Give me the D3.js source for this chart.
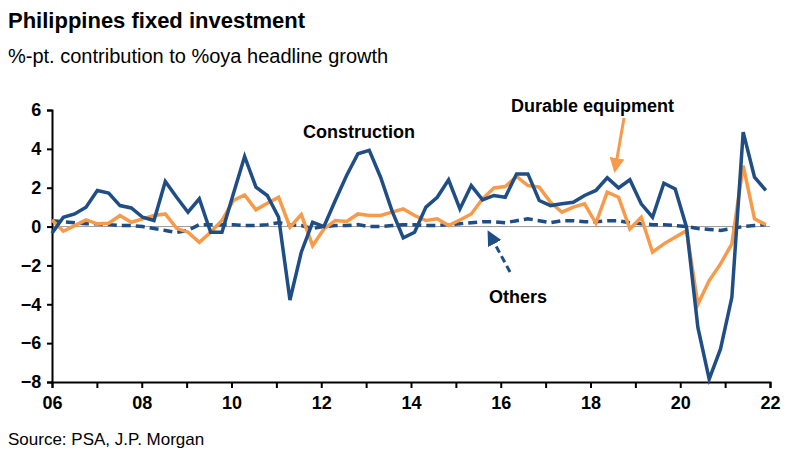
<!DOCTYPE html>
<html><head><meta charset="utf-8">
<script src="https://cdn.jsdelivr.net/npm/d3@7"></script>
<style>body{margin:0;background:#fff}text{font-family:Arial,"Liberation Sans",sans-serif}</style>
</head><body><svg id="chart" width="800" height="458"></svg>
<script>
// quarterly, 2006Q1 .. 2021Q4
const construction = [-0.34,0.48,0.65,1.0,1.86,1.72,1.08,0.96,0.48,0.31,2.32,1.51,0.74,1.43,-0.29,-0.29,
  1.68,3.61,2.03,1.6,0.48,-3.78,-1.32,0.22,0,1.34,2.63,3.75,3.92,2.54,0.82,-0.58,
  -0.29,1.0,1.51,2.41,0.91,2.11,1.37,1.6,1.51,2.71,2.71,1.34,1.08,1.17,1.25,1.6,
  1.86,2.51,1.99,2.41,1.17,0.48,2.23,1.94,-0.03,-5.19,-7.85,-6.3,-3.64,4.86,2.54,1.86];
const durable = [0.34,-0.24,0.05,0.34,0.14,0.17,0.57,0.22,0.4,0.57,0.65,-0.09,-0.29,-0.81,-0.29,0.31,
  1.34,1.63,0.86,1.2,1.51,-0.03,0.62,-0.98,-0.12,0.31,0.26,0.65,0.57,0.57,0.74,0.91,
  0.57,0.31,0.4,0.05,0.34,0.65,1.43,1.99,2.06,2.58,2.11,2.03,1.25,0.74,1.0,1.17,
  0.17,1.77,1.51,-0.12,0.48,-1.32,-0.89,-0.55,-0.21,-4.0,-2.78,-1.92,-0.89,3.14,0.4,0.1];
const others = [0.3,0.25,0.2,0.15,0.15,0.1,0.05,0.05,0.0,-0.1,-0.2,-0.3,-0.2,0.1,0.1,0.1,
  0.1,0.05,0.05,0.1,0.2,0.1,0.05,-0.1,0.0,0.05,0.05,0.1,0.0,0.0,0.05,0.1,
  0.1,0.05,0.05,0.1,0.15,0.2,0.25,0.25,0.2,0.3,0.4,0.3,0.2,0.3,0.3,0.25,
  0.25,0.3,0.3,0.2,0.15,0.1,0.1,0.05,0.0,-0.1,-0.15,-0.2,-0.1,0.0,0.05,0.1];
const yTicks = [6,4,2,0,-2,-4,-6,-8];
const xLabelYears = [2006,2008,2010,2012,2014,2016,2018,2020,2022];

const svg = d3.select("#chart");
const x = d3.scaleLinear().domain([2006, 2022]).range([52, 770]);
const y = d3.scaleLinear().domain([-8, 6]).range([382, 110]);
const blue = "#1f4e86", orange = "#f79a4a";

svg.append("text").attr("x", 8).attr("y", 28).attr("font-size", 22).attr("font-weight", "bold").text("Philippines fixed investment");
svg.append("text").attr("x", 8).attr("y", 63).attr("font-size", 20).text("%-pt. contribution to %oya headline growth");
svg.append("text").attr("x", 8).attr("y", 445).attr("font-size", 17).text("Source: PSA, J.P. Morgan");

// zero line
svg.append("line").attr("x1", x(2006)).attr("x2", x(2022)).attr("y1", y(0)).attr("y2", y(0)).attr("stroke", "#999").attr("stroke-width", 1);

const yAxis = svg.append("g").attr("transform", `translate(${x(2006)},0)`)
  .call(d3.axisLeft(y).tickValues(yTicks).tickSize(5).tickFormat(d3.format("d")));
const xAxis = svg.append("g").attr("transform", `translate(0,${y(-8)})`)
  .call(d3.axisBottom(x).tickValues(d3.range(2006, 2023)).tickSize(6)
    .tickFormat(d => xLabelYears.includes(d) ? String(d).slice(2) : ""));
[yAxis, xAxis].forEach(g => {
  g.selectAll("path,line").attr("stroke", "#000").attr("stroke-width", 2);
  g.selectAll("text").attr("font-size", 18).attr("font-weight", "bold").attr("fill", "#000");
});
xAxis.selectAll("text").attr("dy", "1.0em");
yAxis.selectAll("text").attr("dx", "-0.15em");

const line = d3.line().x((d, i) => x(2006 + i * 0.2525)).y(d => y(d));
svg.append("path").datum(others).attr("d", line).attr("fill", "none").attr("stroke", blue).attr("stroke-width", 3.5).attr("stroke-dasharray", "9,5");
svg.append("path").datum(durable).attr("d", line).attr("fill", "none").attr("stroke", orange).attr("stroke-width", 3.5);
svg.append("path").datum(construction).attr("d", line).attr("fill", "none").attr("stroke", blue).attr("stroke-width", 3.5);

// annotations
const lab = (t, px, py) => svg.append("text").attr("x", px).attr("y", py).attr("font-size", 18).attr("font-weight", "bold").text(t);
lab("Construction", 303, 138);
lab("Durable equipment", 511, 112);
lab("Others", 489, 303);
const defs = svg.append("defs");
[["ao", orange], ["ab", blue]].forEach(([id, c]) => defs.append("marker").attr("id", id).attr("viewBox", "0 0 10 10")
  .attr("refX", 8).attr("refY", 5).attr("markerWidth", 5).attr("markerHeight", 5).attr("orient", "auto")
  .append("path").attr("d", "M0,0L10,5L0,10z").attr("fill", c));
svg.append("line").attr("x1", 624).attr("y1", 118).attr("x2", 615).attr("y2", 170).attr("stroke", orange).attr("stroke-width", 3).attr("marker-end", "url(#ao)");
svg.append("line").attr("x1", 510).attr("y1", 272).attr("x2", 489).attr("y2", 233).attr("stroke", blue).attr("stroke-width", 3).attr("stroke-dasharray", "7,4").attr("marker-end", "url(#ab)");
</script></body></html>
